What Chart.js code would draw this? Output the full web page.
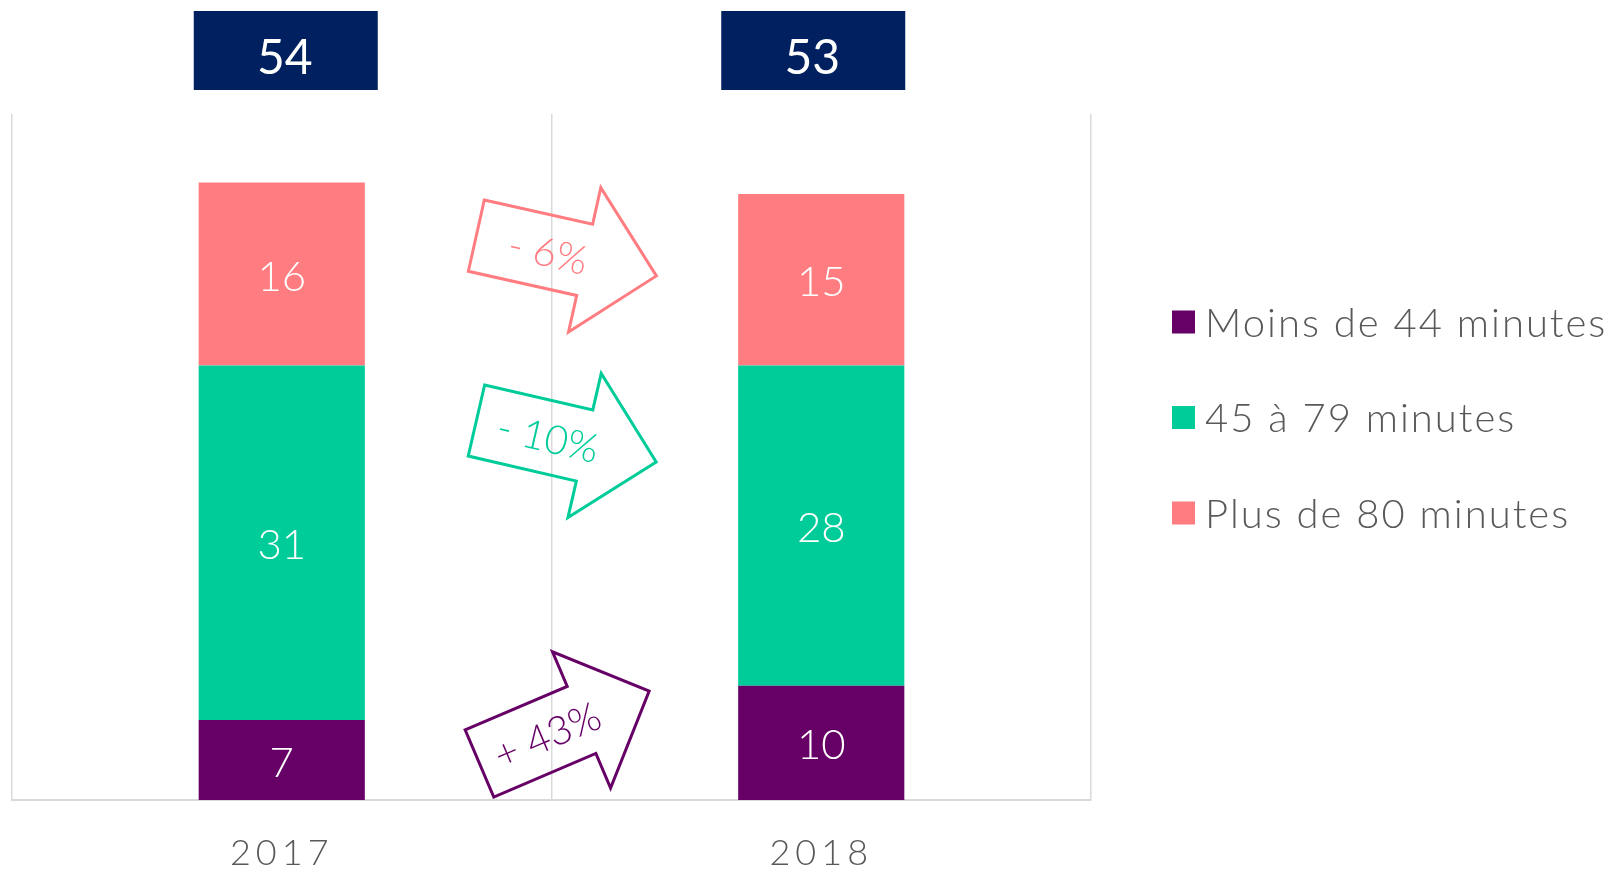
<!DOCTYPE html>
<html>
<head>
<meta charset="utf-8">
<script src="https://cdn.jsdelivr.net/npm/chart.js@4/dist/chart.umd.min.js"></script>
<style>
  html, body { margin: 0; padding: 0; background: #fff; }
  #wrap { width: 1618px; height: 875px; }
</style>
</head>
<body>
<div id="wrap"><canvas id="c" width="1618" height="875"></canvas></div>
<script>
const categories = ['2017', '2018'];
const seriesNames = ['Moins de 44 minutes', '45 à 79 minutes', 'Plus de 80 minutes'];
const under44 = [7, 10];
const from45to79 = [31, 28];
const over80 = [16, 15];
const changeLabels = ['+ 43%', '- 10%', '- 6%'];

const colors = ['#660066', '#00CC99', '#FF7C80'];
const navy = '#002060';
const grey = '#595959';
const gridGrey = '#D9D9D9';
const FONT = 'Lato, "Open Sans", sans-serif';

// where the change arrows sit (y in data units, angle in degrees)
const arrowLayout = [
  { at: 5.1, angle: -23.1 },
  { at: 32.1, angle: 13 },
  { at: 48.3, angle: 12.6 }
];

function drawArrow(ctx, cx, cy, angle, color, text) {
  ctx.save();
  ctx.translate(cx, cy);
  ctx.rotate(angle * Math.PI / 180);
  ctx.beginPath();
  ctx.moveTo(-55.5, -36.5);
  ctx.lineTo(55.5, -36.5);
  ctx.lineTo(55.5, -74);
  ctx.lineTo(129, 0);
  ctx.lineTo(55.5, 74);
  ctx.lineTo(55.5, 36.5);
  ctx.lineTo(-55.5, 36.5);
  ctx.closePath();
  ctx.lineWidth = 3;
  ctx.strokeStyle = color;
  ctx.stroke();
  ctx.fillStyle = color;
  ctx.font = '300 40px ' + FONT;
  ctx.textAlign = 'center';
  ctx.textBaseline = 'middle';
  ctx.fillText(text, 18, 2);
  ctx.restore();
}

const extras = {
  id: 'extras',
  beforeDraw(chart) {
    chart.ctx.letterSpacing = '5px';
  },
  beforeDatasetsDraw(chart) {
    chart.ctx.letterSpacing = '0px';
  },
  afterDatasetsDraw(chart) {
    const ctx = chart.ctx;
    const x = chart.scales.x, y = chart.scales.y;
    ctx.save();
    ctx.letterSpacing = '0px';

    // values inside the bars
    ctx.fillStyle = '#fff';
    ctx.font = '300 42px ' + FONT;
    ctx.textAlign = 'center';
    ctx.textBaseline = 'middle';
    chart.data.datasets.forEach((ds, di) => {
      chart.getDatasetMeta(di).data.forEach((bar, i) => {
        ctx.fillText(String(ds.data[i]), bar.x, (bar.y + bar.base) / 2 + 3);
      });
    });

    // totals in navy boxes
    const boxShift = [3, -9];
    categories.forEach((c, i) => {
      const total = chart.data.datasets.reduce((s, ds) => s + ds.data[i], 0);
      const cx = x.getPixelForValue(i) + boxShift[i];
      ctx.fillStyle = navy;
      ctx.fillRect(cx - 91, 11, 184, 79);
      ctx.fillStyle = '#fff';
      ctx.font = '48px ' + FONT;
      ctx.fillText(String(total), cx, 59);
    });

    // change arrows between the two years
    const midX = (x.getPixelForValue(0) + x.getPixelForValue(1)) / 2 - 21;
    arrowLayout.forEach((a, i) => {
      drawArrow(ctx, midX, y.getPixelForValue(a.at), a.angle, colors[i], changeLabels[i]);
    });

    // legend
    ctx.textAlign = 'left';
    ctx.font = '300 40px ' + FONT;
    ctx.letterSpacing = '2px';
    seriesNames.forEach((name, i) => {
      const ly = 322 + i * 95.5;
      ctx.fillStyle = colors[i];
      ctx.fillRect(1172, ly - 11.5, 23, 23);
      ctx.fillStyle = grey;
      ctx.fillText(name, 1205, ly + 2);
    });
    ctx.restore();
  }
};

new Chart(document.getElementById('c'), {
  type: 'bar',
  data: {
    labels: categories,
    datasets: [
      { label: seriesNames[0], data: under44, backgroundColor: colors[0] },
      { label: seriesNames[1], data: from45to79, backgroundColor: colors[1] },
      { label: seriesNames[2], data: over80, backgroundColor: colors[2] }
    ]
  },
  options: {
    responsive: false,
    animation: false,
    layout: { padding: { top: 114, left: 12, right: 527, bottom: 0 } },
    datasets: { bar: { categoryPercentage: 1, barPercentage: 0.308 } },
    plugins: { legend: { display: false }, tooltip: { enabled: false } },
    scales: {
      x: {
        stacked: true,
        afterFit(scale) { scale.height = 75; },
        grid: { color: gridGrey, lineWidth: 1.5, offset: true, drawTicks: false },
        border: { color: gridGrey, width: 2 },
        ticks: { color: grey, padding: 32, font: { family: FONT, size: 36, weight: '300' } }
      },
      y: { stacked: true, display: false, min: 0, max: 60 }
    }
  },
  plugins: [extras]
});
</script>
</body>
</html>
